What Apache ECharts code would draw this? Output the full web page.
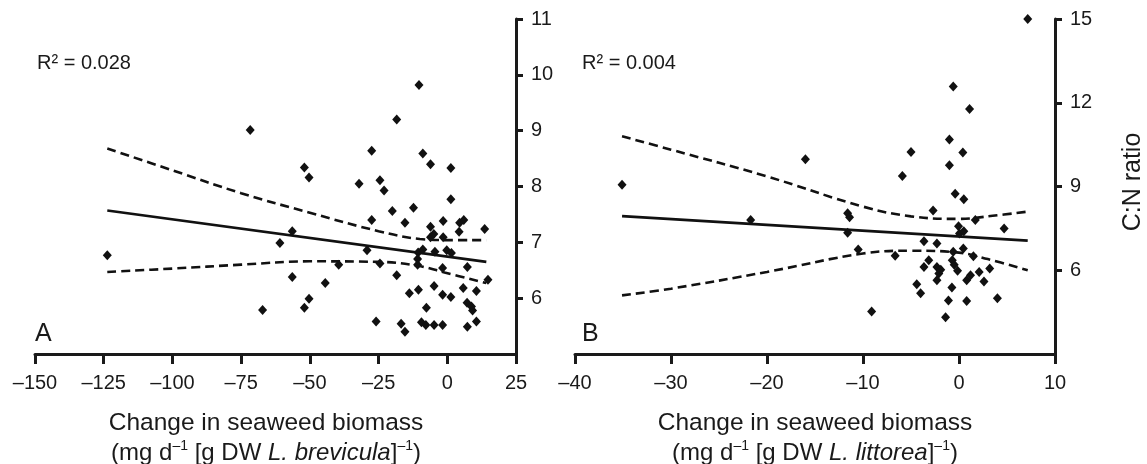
<!DOCTYPE html>
<html>
<head>
<meta charset="utf-8">
<script src="https://cdn.jsdelivr.net/npm/echarts@6/dist/echarts.min.js"></script>
<style>
html,body{margin:0;padding:0;background:#fff;}
#chart{width:1147px;height:464px;}
</style>
</head>
<body>
<div id="chart"></div>
<script>
// ---- Panel A data (L. brevicula) ----
const pointsA = [
  [-123.7,6.77],[-71.7,9.01],[-67.2,5.79],[-60.9,6.99],[-56.4,7.20],[-56.4,6.38],
  [-52.0,8.34],[-50.3,8.16],[-50.3,5.99],[-52.0,5.83],[-44.4,6.27],[-39.5,6.60],
  [-32.1,8.05],[-27.5,8.64],[-27.5,7.40],[-29.2,6.86],[-24.5,8.11],[-23.0,7.93],
  [-24.5,6.62],[-25.9,5.58],[-20.0,7.56],[-18.4,9.20],[-18.4,6.41],[-15.4,7.35],
  [-16.8,5.54],[-15.4,5.40],[-13.8,6.09],[-12.3,7.62],[-10.3,9.82],[-10.6,6.82],
  [-8.9,6.87],[-10.8,6.70],[-10.8,6.60],[-10.5,6.15],[-8.9,8.59],[-9.4,5.57],
  [-7.6,5.83],[-7.8,5.52],[-6.1,8.40],[-6.1,7.28],[-6.1,7.09],[-4.9,7.15],
  [-4.5,6.83],[-4.8,6.22],[-4.8,5.52],[-1.5,7.38],[-1.5,7.09],[-1.7,6.54],
  [-1.7,6.06],[-1.7,5.52],[-0.2,6.86],[1.3,8.33],[1.3,7.77],[1.5,6.81],
  [1.3,6.02],[4.5,7.35],[4.3,7.19],[6.0,7.40],[5.8,6.18],[7.3,6.56],
  [7.2,5.92],[7.3,5.49],[8.8,5.85],[9.2,5.78],[10.6,6.13],[10.6,5.58],
  [13.6,7.24],[14.8,6.33]
];
const fitA = [[-123.7,7.57],[14.2,6.65]];
const upperA = [[-123.7,8.68],[-100,8.29],[-75,7.88],[-50,7.53],[-25,7.20],[-10,7.06],[0,7.04],[14.2,7.04]];
const lowerA = [[-123.7,6.47],[-100,6.53],[-75,6.60],[-50,6.66],[-25,6.65],[-10.8,6.58],[-1,6.46],[14.2,6.27]];
const xTicksA = {min:-150, max:25, interval:25};
const yTicksA = [6,7,8,9,10,11];

// ---- Panel B data (L. littorea) ----
const pointsB = [
  [7.16,15.0],[-35.1,9.06],[-16.0,9.98],[-21.7,7.80],[-11.6,8.04],[-11.4,7.90],
  [-11.6,7.34],[-10.5,6.74],[-9.1,4.52],[-6.65,6.52],[-5.9,9.38],[-5.0,10.24],
  [-4.4,5.50],[-4.0,5.18],[-3.65,7.04],[-3.65,6.12],[-3.15,6.36],[-2.7,8.14],
  [-2.3,6.96],[-2.3,6.12],[-2.1,5.88],[-2.3,5.64],[-1.9,6.02],[-1.4,4.32],
  [-1.1,4.92],[-1.0,10.68],[-1.0,9.76],[-0.74,5.38],[-0.6,12.58],[-0.6,6.66],
  [-0.7,6.36],[-0.4,8.74],[-0.5,6.20],[-0.15,5.98],[-0.05,7.58],[0.05,7.32],
  [0.4,10.22],[0.5,8.54],[0.5,7.40],[0.45,6.78],[0.8,4.90],[0.8,5.64],
  [1.1,11.78],[1.2,5.82],[1.5,6.50],[1.7,7.80],[2.1,5.94],[2.6,5.60],
  [3.2,6.06],[4.0,5.00],[4.7,7.50]
];
const fitB = [[-35.1,7.94],[7.16,7.06]];
const upperB = [[-35.1,10.80],[-30,10.32],[-20,9.36],[-10,8.28],[-5,7.93],[0,7.84],[3.5,7.95],[7.16,8.10]];
const lowerB = [[-35.1,5.10],[-30,5.34],[-20,5.94],[-10,6.60],[-5,6.70],[0,6.63],[3,6.40],[7.16,6.00]];
const xTicksB = {min:-40, max:10, interval:10};
const yTicksB = [6,9,12,15];

const r2A = 'R² = 0.028';
const r2B = 'R² = 0.004';
const yTitle = 'C:N ratio';

const INK = '#1a1a1a';
const FONT = '"Liberation Sans", Arial, Helvetica, sans-serif';

function xAxisCfg(idx, t){
  return {
    type:'value', gridIndex:idx, min:t.min, max:t.max, interval:t.interval,
    splitLine:{show:false},
    axisLine:{onZero:false, lineStyle:{color:INK, width:3}},
    axisTick:{length:10, lineStyle:{color:INK, width:3}},
    axisLabel:{margin:19, color:INK, fontSize:20, fontFamily:FONT,
      formatter:v=>String(v).replace('-','–')}
  };
}
function yAxisCfg(idx, min, max, interval, ticks){
  return {
    type:'value', gridIndex:idx, position:'right', min:min, max:max, interval:interval,
    splitLine:{show:false},
    axisLine:{onZero:false, lineStyle:{color:INK, width:3}},
    axisTick:{length:7, customValues:ticks, lineStyle:{color:INK, width:3}},
    axisLabel:{margin:15, color:INK, fontSize:20, fontFamily:FONT, customValues:ticks}
  };
}
function scatter(idx, data){
  return {type:'scatter', xAxisIndex:idx, yAxisIndex:idx, data:data, symbol:'diamond',
    symbolSize:[9,10], itemStyle:{color:'#111', opacity:1}, clip:false, z:3};
}
function line(idx, data, dashed){
  return {type:'line', xAxisIndex:idx, yAxisIndex:idx, data:data, showSymbol:false,
    smooth: dashed ? 0.4 : false,
    lineStyle:{color:'#111', width:2.6, type: dashed ? [9,5] : 'solid'}, z:2};
}

function titleText(cx, species){
  return [
    {type:'text', x:cx, y:423, style:{text:'Change in seaweed biomass', font:'24.5px '+FONT,
      fill:INK, align:'center', verticalAlign:'middle'}},
    {type:'text', x:cx, y:453, style:{
      text:'{n|(mg d}{s|–1}{n| [g DW }{i|'+species+'}{n|]}{s|–1}{n|)}',
      align:'center', verticalAlign:'middle',
      rich:{
        n:{fontSize:24, fontFamily:FONT, fill:INK, lineHeight:28},
        i:{fontSize:24, fontFamily:FONT, fontStyle:'italic', fill:INK, lineHeight:28},
        s:{fontSize:14, fontFamily:FONT, fill:INK, lineHeight:28, verticalAlign:'top', padding:[0,0,10,0]}
      }}}
  ];
}

const chart = echarts.init(document.getElementById('chart'), null, {renderer:'canvas'});
chart.setOption({
  animation:false,
  backgroundColor:'#fff',
  grid:[
    {left:35, right:631, top:19, bottom:110},
    {left:575, right:92, top:19, bottom:110}
  ],
  xAxis:[xAxisCfg(0,xTicksA), xAxisCfg(1,xTicksB)],
  yAxis:[yAxisCfg(0,5,11,1,yTicksA), yAxisCfg(1,3,15,3,yTicksB)],
  series:[
    scatter(0,pointsA), line(0,fitA,false), line(0,upperA,true), line(0,lowerA,true),
    scatter(1,pointsB), line(1,fitB,false), line(1,upperB,true), line(1,lowerB,true)
  ],
  graphic:[
    {type:'text', x:37, y:63, style:{text:r2A, font:'20px '+FONT, fill:INK, verticalAlign:'middle'}},
    {type:'text', x:582, y:63, style:{text:r2B, font:'20px '+FONT, fill:INK, verticalAlign:'middle'}},
    {type:'text', x:35, y:334, style:{text:'A', font:'25px '+FONT, fill:INK, verticalAlign:'middle'}},
    {type:'text', x:582, y:334, style:{text:'B', font:'25px '+FONT, fill:INK, verticalAlign:'middle'}},
    {type:'text', x:1133, y:182, rotation:Math.PI/2,
      style:{text:yTitle, font:'25px '+FONT, fill:INK, align:'center', verticalAlign:'middle'}},
    ...titleText(266,'L. brevicula'),
    ...titleText(815,'L. littorea')
  ]
});
</script>
</body>
</html>
